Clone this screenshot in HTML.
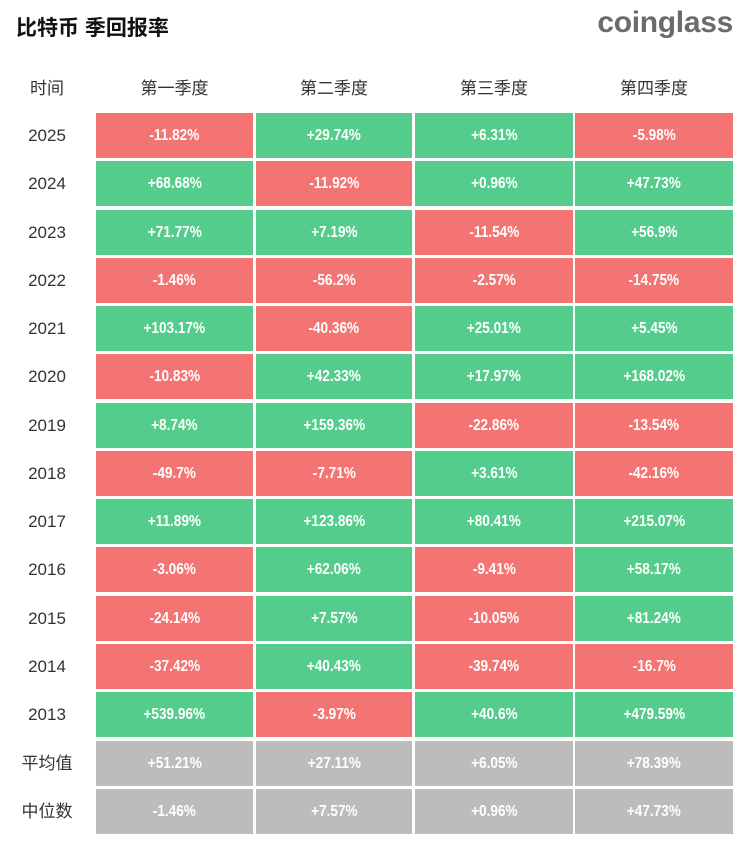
<!DOCTYPE html>
<html><head><meta charset="utf-8"><style>
body{margin:0;width:747px;height:852px;background:#fff;font-family:"Liberation Sans","Noto Sans CJK SC",sans-serif;position:relative;overflow:hidden}
.title{position:absolute;left:16px;top:12px;font-size:21px;font-weight:bold;color:#111}
.logo{position:absolute;right:14px;top:6px;font-size:30px;font-weight:bold;color:#6b6b6b;letter-spacing:-0.3px}
.h{position:absolute;top:74px;font-size:17px;color:#333;text-align:center}
.lab{position:absolute;left:0;width:94px;text-align:center;font-size:17px;color:#333}
.c span{display:inline-block;transform:scaleX(0.85)}
.c{position:absolute;height:45px;line-height:45px;text-align:center;color:#fff;font-size:16px;font-weight:600}
.r{background:#f47373}.g{background:#53cc8c}.n{background:#bcbcbc}
</style></head><body>
<div class="title">比特币 季回报率</div>
<div class="logo">coinglass</div>
<div class="h" style="left:0;width:94px">时间</div>
<div class="h" style="left:96px;width:157px">第一季度</div>
<div class="h" style="left:256px;width:156px">第二季度</div>
<div class="h" style="left:415px;width:158px">第三季度</div>
<div class="h" style="left:575px;width:158px">第四季度</div>
<div id="t"></div>
<script>
var d=[["2025","-11.82%","+29.74%","+6.31%","-5.98%"],["2024","+68.68%","-11.92%","+0.96%","+47.73%"],["2023","+71.77%","+7.19%","-11.54%","+56.9%"],["2022","-1.46%","-56.2%","-2.57%","-14.75%"],["2021","+103.17%","-40.36%","+25.01%","+5.45%"],["2020","-10.83%","+42.33%","+17.97%","+168.02%"],["2019","+8.74%","+159.36%","-22.86%","-13.54%"],["2018","-49.7%","-7.71%","+3.61%","-42.16%"],["2017","+11.89%","+123.86%","+80.41%","+215.07%"],["2016","-3.06%","+62.06%","-9.41%","+58.17%"],["2015","-24.14%","+7.57%","-10.05%","+81.24%"],["2014","-37.42%","+40.43%","-39.74%","-16.7%"],["2013","+539.96%","-3.97%","+40.6%","+479.59%"],["平均值","+51.21%","+27.11%","+6.05%","+78.39%"],["中位数","-1.46%","+7.57%","+0.96%","+47.73%"]];
var xs=[[96,157],[256,156],[415,158],[575,158]],h="";
d.forEach(function(r,i){var y=Math.round(113+i*48.27);
h+='<div class="lab" style="top:'+y+'px;line-height:45px">'+r[0]+'</div>';
for(var j=1;j<5;j++){var cl=i>=13?'n':(r[j][0]=='-'?'r':'g');
h+='<div class="c '+cl+'" style="top:'+y+'px;left:'+xs[j-1][0]+'px;width:'+xs[j-1][1]+'px"><span>'+r[j]+'</span></div>';}});
document.getElementById('t').innerHTML=h;
</script>
</body></html>
